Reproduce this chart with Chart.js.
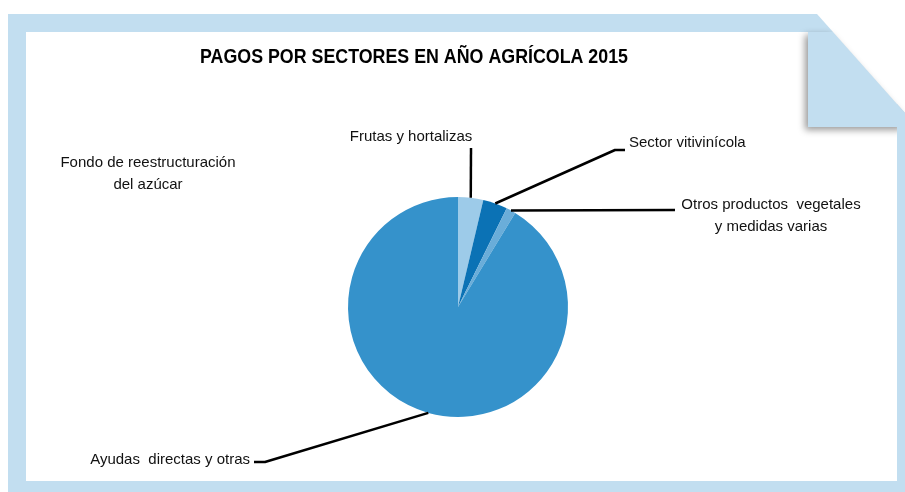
<!DOCTYPE html>
<html>
<head>
<meta charset="utf-8">
<script src="https://cdn.jsdelivr.net/npm/chart.js@4.4.0/dist/chart.umd.min.js"></script>
<style>
  html, body { margin: 0; padding: 0; background: #fff; }
  canvas { display: block; }
</style>
</head>
<body>
<canvas id="pagos-pie" width="905" height="492"></canvas>
<script>
// Reparto de pagos por sectores (% del total)
const sectores = [
  'Frutas y hortalizas',
  'Sector vitivinícola',
  'Otros productos vegetales y medidas varias',
  'Ayudas directas y otras',
  'Fondo de reestructuración del azúcar'
];
const porcentajes = [3.7, 3.6, 1.4, 91.3, 0];
const colores = ['#9dcbe9', '#0b72b5', '#6aadd9', '#3592cb', '#c2def0'];

const titulo = 'PAGOS POR SECTORES EN AÑO AGRÍCOLA 2015';
const FRAME = '#c2def0';
const FONT = "'Liberation Sans', Arial, sans-serif";

// where each label sits and how its leader line bends
const etiquetas = [
  { lines: ['Frutas y hortalizas'], x: 411, y: 137, align: 'center', path: [[471, 148]] },
  { lines: ['Sector vitivinícola'], x: 629, y: 143, align: 'left', path: [[615, 150], [625, 150]] },
  { lines: ['Otros productos  vegetales', 'y medidas varias'], x: 771, y: 205, align: 'center', path: [[675, 210]] },
  { lines: ['Ayudas  directas y otras'], x: 250, y: 460, align: 'right', path: [[265, 462], [254, 462]] },
  { lines: ['Fondo de reestructuración', 'del azúcar'], x: 148, y: 163, align: 'center', path: null }
];

const framePlugin = {
  id: 'frame',
  beforeDraw(chart) {
    const ctx = chart.ctx;
    ctx.save();
    ctx.fillStyle = '#fff';
    ctx.fillRect(0, 0, chart.width, chart.height);

    // border with the cut corner
    ctx.fillStyle = FRAME;
    ctx.beginPath();
    ctx.moveTo(8, 14);
    ctx.lineTo(817, 14);
    ctx.lineTo(905, 113);
    ctx.lineTo(905, 492);
    ctx.lineTo(8, 492);
    ctx.closePath();
    ctx.fill();

    ctx.fillStyle = '#fff';
    ctx.fillRect(26, 32, 897 - 26, 481 - 32);

    // folded flap with its shadow
    ctx.shadowColor = 'rgba(0,0,0,0.4)';
    ctx.shadowBlur = 7;
    ctx.shadowOffsetX = -3;
    ctx.shadowOffsetY = 3;
    ctx.fillStyle = FRAME;
    ctx.beginPath();
    ctx.moveTo(808, 32);
    ctx.lineTo(833, 32);
    ctx.lineTo(905, 113);
    ctx.lineTo(905, 127);
    ctx.lineTo(808, 127);
    ctx.closePath();
    ctx.fill();
    ctx.restore();

    // right border strip under the flap
    ctx.save();
    ctx.fillStyle = FRAME;
    ctx.fillRect(897, 127, 8, 365);
    ctx.restore();
  },
  afterDraw(chart) {
    const ctx = chart.ctx;
    ctx.save();
    // condensed bold title, squeezed to its box width
    ctx.fillStyle = '#000';
    ctx.font = 'bold 20px ' + FONT;
    ctx.textAlign = 'center';
    ctx.textBaseline = 'middle';
    const sx = 428 / ctx.measureText(titulo).width;
    ctx.save();
    ctx.translate(414, 57);
    ctx.scale(sx, 1);
    ctx.fillText(titulo, 0, 0);
    ctx.restore();

    const arcs = chart.getDatasetMeta(0).data;
    ctx.strokeStyle = '#000';
    ctx.lineWidth = 2.5;
    ctx.lineJoin = 'round';
    etiquetas.forEach((lab, i) => {
      if (lab.path && porcentajes[i] > 0) {
        const a = arcs[i].getProps(['x', 'y', 'startAngle', 'endAngle', 'outerRadius'], true);
        const mid = (a.startAngle + a.endAngle) / 2;
        ctx.beginPath();
        ctx.moveTo(a.x + Math.cos(mid) * a.outerRadius, a.y + Math.sin(mid) * a.outerRadius);
        lab.path.forEach(p => ctx.lineTo(p[0], p[1]));
        ctx.stroke();
      }
      ctx.font = '15px ' + FONT;
      ctx.fillStyle = '#111';
      ctx.textAlign = lab.align;
      ctx.textBaseline = 'middle';
      lab.lines.forEach((t, k) => ctx.fillText(t, lab.x, lab.y + k * 22));
    });
    ctx.restore();
  }
};

new Chart(document.getElementById('pagos-pie'), {
  type: 'pie',
  data: {
    labels: sectores,
    datasets: [{
      data: porcentajes,
      backgroundColor: colores,
      borderWidth: 0,
      hoverOffset: 0,
      offset: 0
    }]
  },
  options: {
    responsive: false,
    animation: false,
    events: [],
    layout: { padding: { left: 348, right: 337, top: 197, bottom: 75 } },
    plugins: {
      legend: { display: false },
      tooltip: { enabled: false },
      title: { display: false }
    }
  },
  plugins: [framePlugin]
});
</script>
</body>
</html>
